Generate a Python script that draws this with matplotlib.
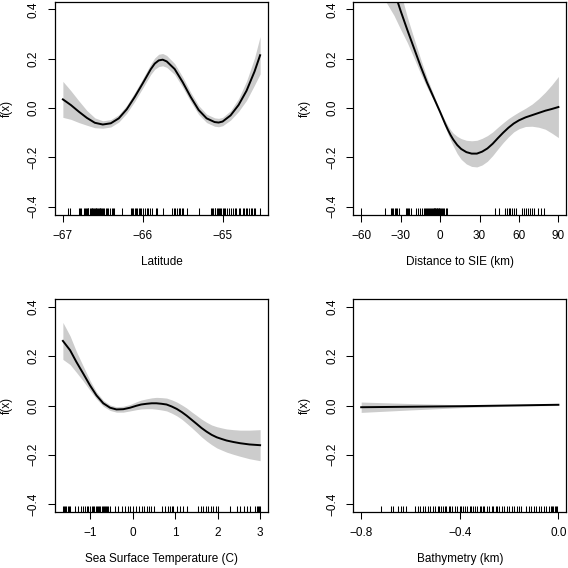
import numpy as np
import matplotlib as mpl
mpl.use('Agg')
import matplotlib.pyplot as plt

# ---- Latitude smooth ----
lat_x = [-67.0, -66.9, -66.8, -66.7, -66.6, -66.5, -66.4, -66.3, -66.2, -66.1, -66.0,
         -65.9, -65.85, -65.8, -65.75, -65.7, -65.6, -65.5, -65.4, -65.3, -65.2, -65.1,
         -65.05, -65.0, -64.9, -64.8, -64.7, -64.6, -64.53]
lat_fit = [0.035, 0.012, -0.015, -0.040, -0.060, -0.067, -0.062, -0.042, -0.005, 0.045,
           0.100, 0.157, 0.180, 0.193, 0.196, 0.189, 0.158, 0.105, 0.045, -0.008, -0.042,
           -0.057, -0.059, -0.055, -0.030, 0.012, 0.070, 0.148, 0.214]
lat_se = [0.073, 0.058, 0.044, 0.030, 0.020, 0.015, 0.015, 0.015, 0.016, 0.018, 0.019,
          0.021, 0.023, 0.025, 0.025, 0.024, 0.022, 0.021, 0.019, 0.018, 0.017, 0.017,
          0.017, 0.017, 0.019, 0.026, 0.039, 0.055, 0.076]
lat_rug = [-66.94, -66.91, -66.80, -66.79, -66.77, -66.74, -66.72, -66.71, -66.70, -66.69,
           -66.68, -66.66, -66.65, -66.64, -66.63, -66.62, -66.61, -66.60, -66.59, -66.58,
           -66.57, -66.56, -66.55, -66.54, -66.53, -66.52, -66.51, -66.50, -66.48, -66.46,
           -66.45, -66.43, -66.41, -66.39, -66.37, -66.36, -66.26, -66.15, -66.13, -66.12,
           -66.10, -66.08, -66.07, -66.05, -66.03, -66.02, -66.00, -65.97, -65.95, -65.93,
           -65.91, -65.89, -65.84, -65.82, -65.74, -65.63, -65.61, -65.59, -65.57, -65.55,
           -65.53, -65.51, -65.49, -65.45, -65.29, -65.15, -65.13, -65.12, -65.10, -65.09,
           -65.07, -65.06, -65.05, -65.03, -65.02, -65.00, -64.98, -64.97, -64.95, -64.92,
           -64.90, -64.87, -64.85, -64.83, -64.80, -64.78, -64.75, -64.73, -64.71, -64.69,
           -64.67, -64.65, -64.63, -64.61, -64.59, -64.53]

# ---- Distance to SIE smooth ----
sie_x = [-60, -50, -40, -35, -30, -25, -20, -15, -10, -7, -4, -2, 0, 2, 4, 6, 8, 10, 13,
         16, 20, 24, 28, 32, 36, 40, 44, 48, 52, 56, 60, 65, 70, 75, 80, 85, 90]
sie_fit = [0.84, 0.70, 0.55, 0.475, 0.394, 0.318, 0.245, 0.172, 0.104, 0.068, 0.032,
           0.008, -0.016, -0.041, -0.066, -0.089, -0.110, -0.128, -0.150, -0.166, -0.179,
           -0.185, -0.185, -0.177, -0.164, -0.145, -0.122, -0.100, -0.080, -0.063, -0.050,
           -0.038, -0.029, -0.020, -0.011, -0.004, 0.004]
sie_se = [0.25, 0.19, 0.13, 0.10, 0.075, 0.052, 0.040, 0.030, 0.020, 0.015, 0.010, 0.008,
          0.007, 0.009, 0.013, 0.017, 0.021, 0.026, 0.035, 0.042, 0.048, 0.052, 0.054,
          0.054, 0.052, 0.048, 0.044, 0.040, 0.037, 0.034, 0.034, 0.037, 0.045, 0.058,
          0.075, 0.098, 0.124]
sie_rug = [-60, -42.2, -37.5, -36.5, -35.8, -34.6, -33.5, -32.9, -31.5, -26.2, -25.4, -24.6,
           -23.7, -22.1, -18.3, -16.5, -15.2, -13.8, -12.5, -11.7, -10.9, -10.1, -9.2, -8.4,
           -7.6, -6.9, -6.2, -5.6, -5.0, -4.5, -4.0, -3.5, -3.0, -2.5, -2.0, -1.5, -1.0, -0.5,
           0.0, 0.6, 1.3, 2.1, 3.0, 4.2, 5.6, 42.0, 45.1, 49.0, 50.6, 52.1, 53.4, 55.0, 56.2,
           57.8, 62.3, 64.1, 65.5, 66.9, 68.3, 69.6, 71.7, 74.2, 76.7, 79.3]

# ---- Sea surface temperature smooth ----
sst_x = [-1.64, -1.47, -1.32, -1.16, -1.00, -0.85, -0.69, -0.53, -0.38, -0.22, -0.06,
         0.09, 0.20, 0.33, 0.45, 0.56, 0.68, 0.80, 0.92, 1.04, 1.16, 1.27, 1.39, 1.51,
         1.62, 1.74, 1.86, 1.98, 2.10, 2.21, 2.37, 2.53, 2.75, 3.0]
sst_fit = [0.262, 0.224, 0.176, 0.129, 0.081, 0.041, 0.009, -0.009, -0.016, -0.015, -0.009,
           -0.001, 0.004, 0.007, 0.009, 0.009, 0.007, 0.004, -0.004, -0.014, -0.027, -0.041,
           -0.058, -0.075, -0.091, -0.106, -0.119, -0.129, -0.136, -0.142, -0.148, -0.153,
           -0.158, -0.161]
sst_se = [0.075, 0.058, 0.042, 0.030, 0.020, 0.014, 0.012, 0.011, 0.011, 0.012, 0.013,
          0.016, 0.018, 0.020, 0.022, 0.024, 0.025, 0.026, 0.027, 0.028, 0.029, 0.031,
          0.032, 0.034, 0.036, 0.038, 0.040, 0.043, 0.045, 0.047, 0.050, 0.053, 0.058, 0.063]
sst_rug = [-1.64, -1.61, -1.58, -1.56, -1.53, -1.50, -1.47, -1.36, -1.29, -1.21, -1.16,
           -1.12, -1.08, -1.04, -1.00, -0.96, -0.93, -0.90, -0.87, -0.84, -0.81, -0.78,
           -0.76, -0.73, -0.70, -0.68, -0.65, -0.62, -0.60, -0.57, -0.54, -0.41, -0.34,
           -0.26, -0.18, -0.10, -0.05, 0.01, 0.09, 0.15, 0.21, 0.28, 0.33, 0.38, 0.44, 0.50,
           0.68, 0.76, 0.84, 0.88, 0.92, 0.95, 1.05, 1.12, 1.19, 1.27, 1.54, 1.60, 1.66,
           1.72, 1.78, 1.84, 1.90, 1.96, 2.01, 2.29, 2.45, 2.53, 2.61, 2.69, 2.76, 2.88,
           2.92, 2.95, 2.98, 3.0]

# ---- Bathymetry smooth ----
bat_x = [-0.8, -0.6, -0.4, -0.2, 0.0]
bat_fit = [-0.007, -0.005, -0.003, 0.0, 0.003]
bat_se = [0.021, 0.013, 0.006, 0.003, 0.003]
bat_rug = [-0.72, -0.68, -0.67, -0.65, -0.64, -0.63, -0.62, -0.58, -0.57, -0.56, -0.55,
           -0.54, -0.53, -0.52, -0.51, -0.50, -0.49, -0.485, -0.475, -0.47, -0.46, -0.455,
           -0.445, -0.44, -0.43, -0.42, -0.41, -0.40, -0.395, -0.385, -0.38, -0.37, -0.36,
           -0.355, -0.345, -0.34, -0.33, -0.32, -0.315, -0.305, -0.30, -0.29, -0.28, -0.27,
           -0.265, -0.255, -0.25, -0.24, -0.23, -0.22, -0.21, -0.20, -0.19, -0.18, -0.17,
           -0.16, -0.15, -0.13, -0.12, -0.11, -0.10, -0.09, -0.08, -0.07, -0.06, -0.05,
           -0.04, -0.03, -0.025, -0.02, -0.015, -0.01, -0.005]

panels = [
    (lat_x, lat_fit, lat_se, lat_rug, 'Latitude', [-67, -66, -65], ['\u221267', '\u221266', '\u221265']),
    (sie_x, sie_fit, sie_se, sie_rug, 'Distance to SIE (km)', [-60, -30, 0, 30, 60, 90],
     ['\u221260', '\u221230', '0', '30', '60', '90']),
    (sst_x, sst_fit, sst_se, sst_rug, 'Sea Surface Temperature (C)', [-1, 0, 1, 2, 3],
     ['\u22121', '0', '1', '2', '3']),
    (bat_x, bat_fit, bat_se, bat_rug, 'Bathymetry (km)', [-0.8, -0.4, 0.0],
     ['\u22120.8', '\u22120.4', '0.0']),
]

plt.rcParams['font.family'] = ['Liberation Sans', 'DejaVu Sans']
plt.rcParams['font.size'] = 8.5

W = 568.0
# axes boxes in pixels: left, top
boxes = [(55, 1.5), (353.3, 1.5), (55, 299), (353.3, 299)]
bw, bh = 213.0, 213.0

fig = plt.figure(figsize=(5.68, 5.68), dpi=100)
fig.patch.set_facecolor('white')

for (x, fit, se, rug, xlabel, xt, xtl), (l, t) in zip(panels, boxes):
    ax = fig.add_axes([l / W, 1 - (t + bh) / W, bw / W, bh / W])
    x = np.array(x)
    fit = np.array(fit)
    se = np.array(se)
    ax.fill_between(x, fit - se, fit + se, color='#cccccc', lw=0)
    ax.plot(x, fit, color='black', lw=1.4, solid_joinstyle='round')
    ax.vlines(rug, 0, 0.03, transform=ax.get_xaxis_transform(), color='black', lw=0.75)

    lo, hi = x[0], x[-1]
    ext = (hi - lo) * 0.04
    ax.set_xlim(lo - ext, hi + ext)
    ax.set_ylim(-0.432, 0.432)

    ax.set_xticks(xt)
    ax.set_xticklabels(xtl)
    ax.set_yticks([-0.4, -0.2, 0.0, 0.2, 0.4])
    ax.set_yticklabels(['\u22120.4', '\u22120.2', '0.0', '0.2', '0.4'], rotation=90, va='center')
    ax.tick_params(length=5, width=0.75, pad=6, colors='black', labelsize=8.5)
    for s in ax.spines.values():
        s.set_linewidth(0.9)

    ax.set_xlabel(xlabel, fontsize=8.5)
    ax.xaxis.set_label_coords(0.5, -0.2225)
    ax.xaxis.label.set_va('center')
    ax.set_ylabel('f(x)', fontsize=8.5)
    ax.yaxis.set_label_coords(-0.228, 0.5)
    ax.yaxis.label.set_va('center')

fig.savefig('out.png', dpi=100)
